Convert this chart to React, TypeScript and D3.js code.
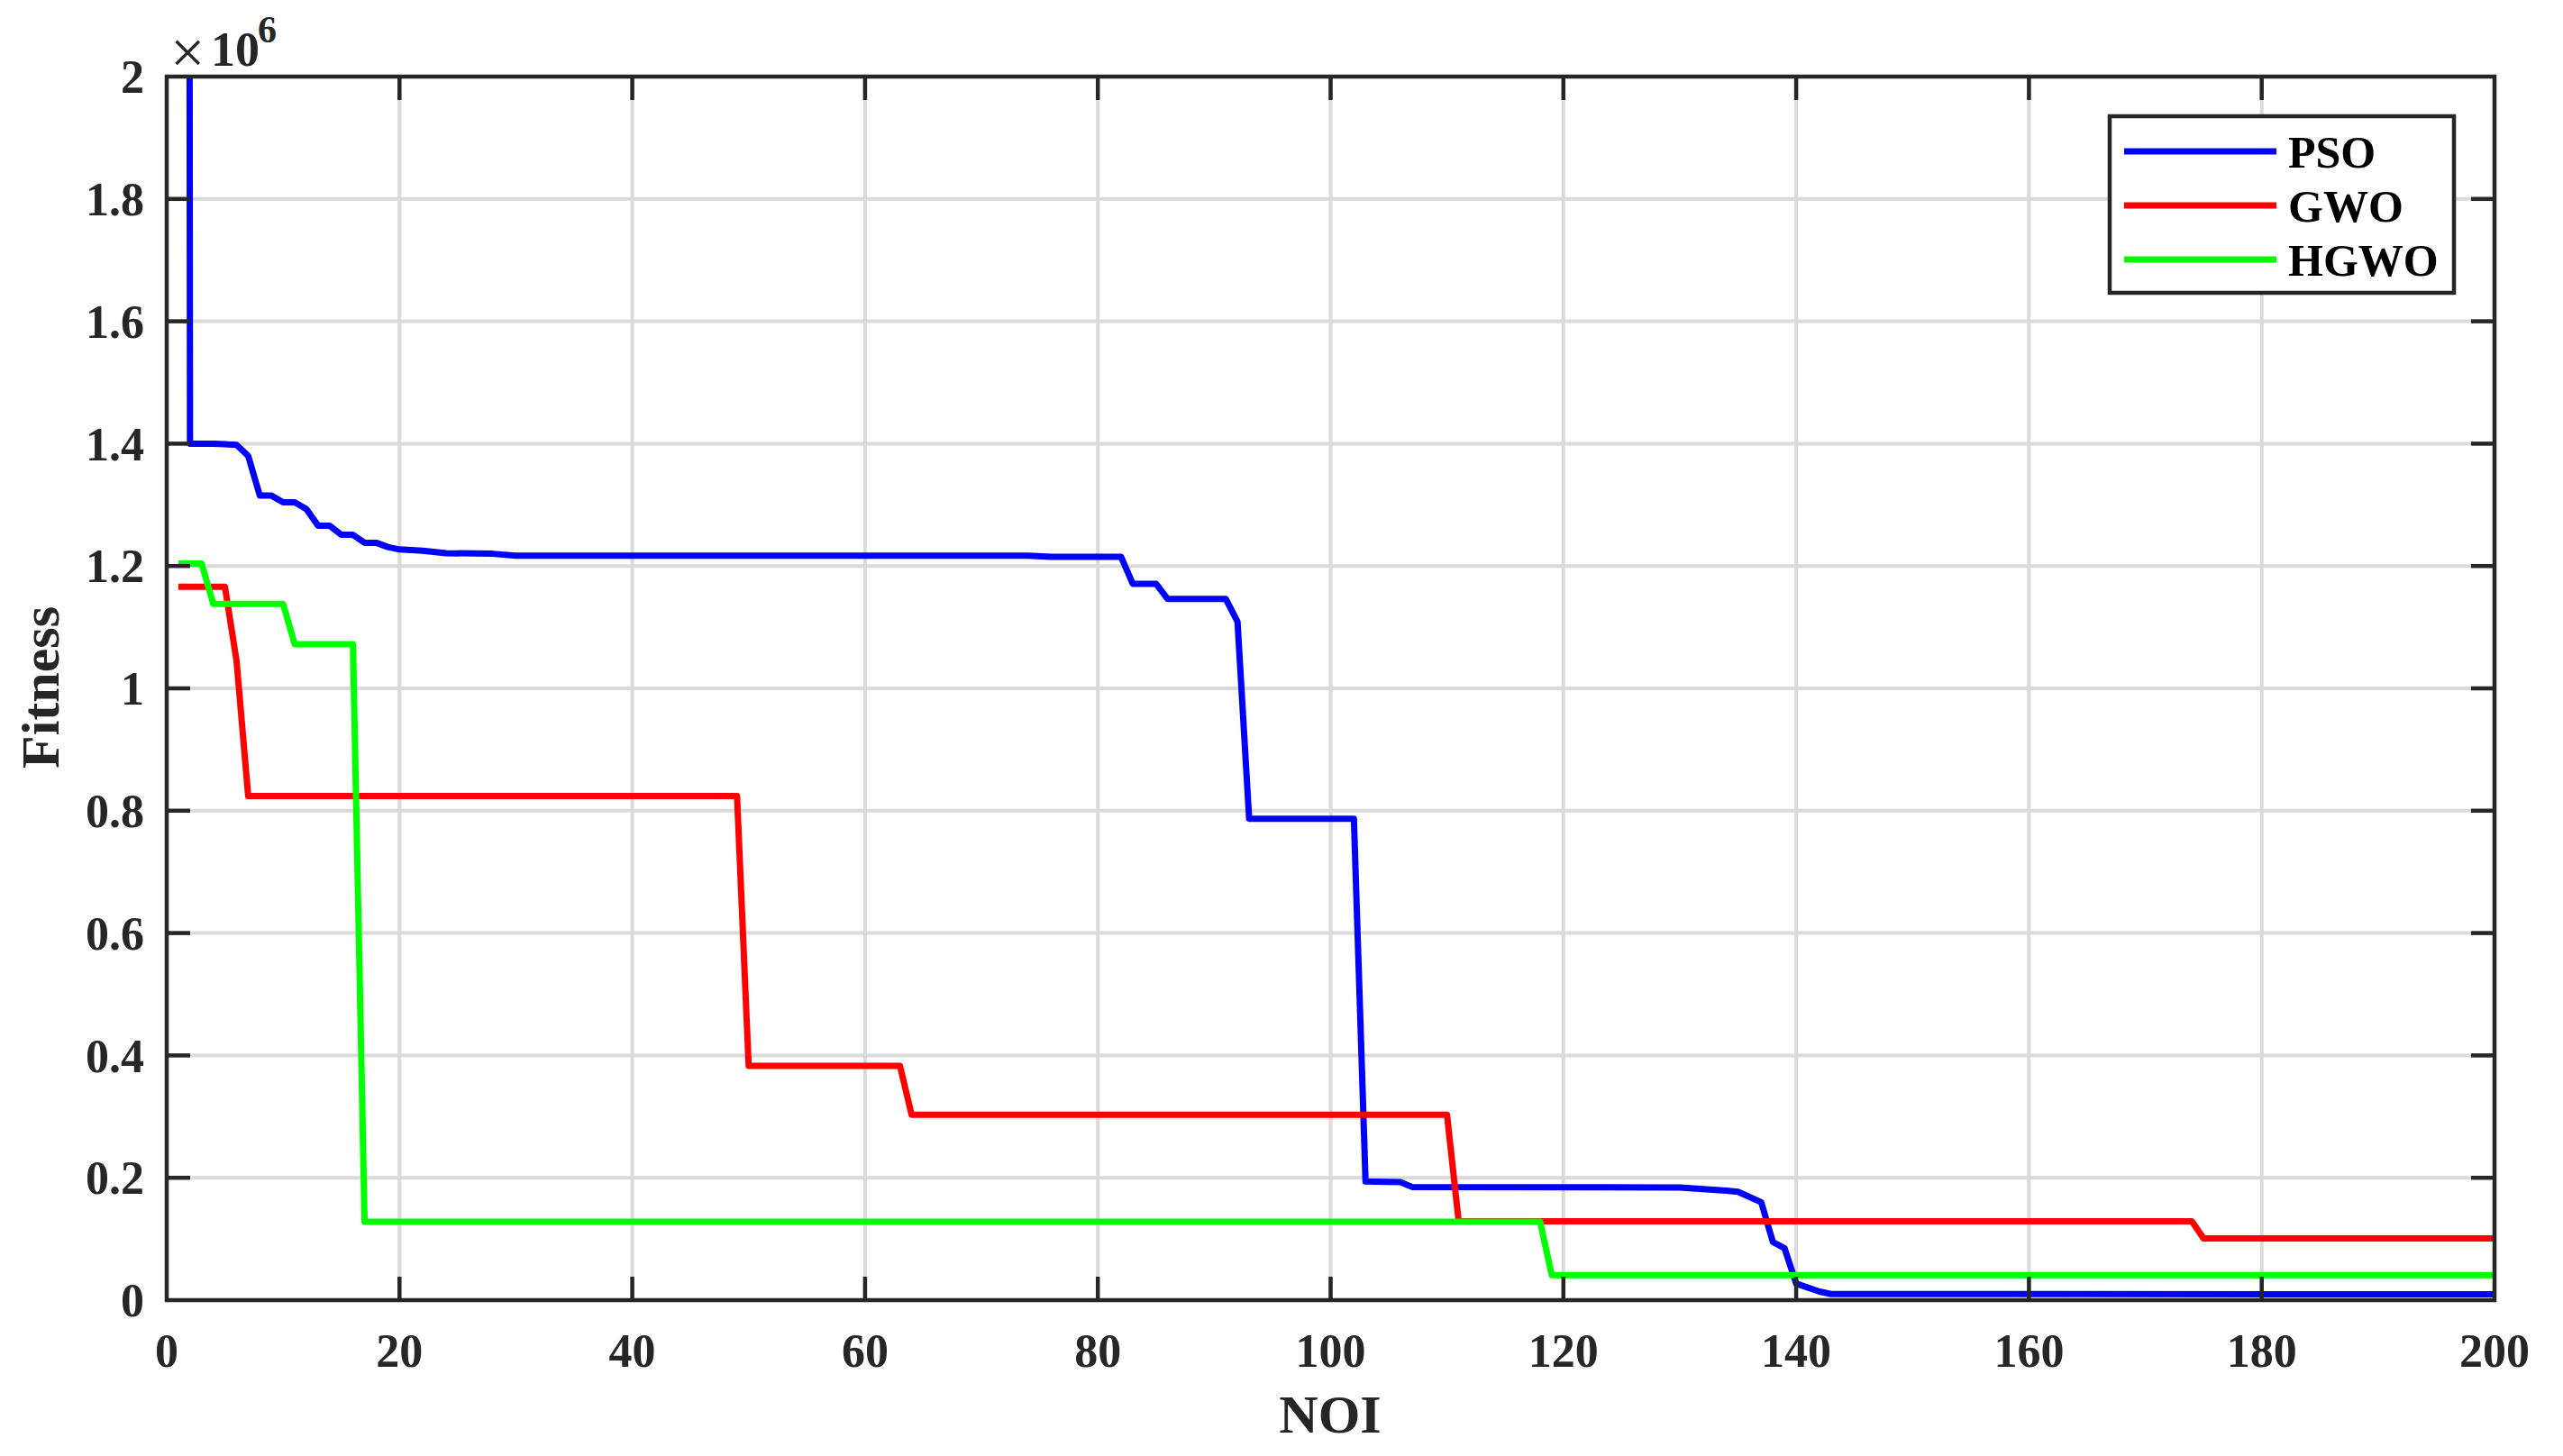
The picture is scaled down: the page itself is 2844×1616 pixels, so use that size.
import React from 'react'
import * as d3 from 'd3'

// vertices of each convergence curve (iteration, fitness in units of 1e6)
const psoIter = [1, 2, 4, 5, 6, 7, 8, 9, 10, 11, 12, 13, 14, 15, 16, 17, 18, 19, 20, 22, 24, 28, 30, 74, 76, 82, 83, 85, 86, 91, 92, 93, 102, 103, 106, 107, 130, 134, 135, 137, 138, 139, 140, 142, 143, 200]
const psoFit = [20, 1.4, 1.4, 1.399, 1.398, 1.38, 1.315, 1.315, 1.304, 1.304, 1.293, 1.266, 1.266, 1.251, 1.251, 1.238, 1.238, 1.231, 1.227, 1.225, 1.221, 1.22, 1.217, 1.217, 1.215, 1.215, 1.171, 1.171, 1.146, 1.146, 1.109, 0.787, 0.787, 0.194, 0.193, 0.185, 0.184, 0.179, 0.177, 0.16, 0.095, 0.085, 0.027, 0.014, 0.01, 0.0095]

const gwoIter = [1, 5, 6, 7, 49, 50, 63, 64, 110, 111, 174, 175, 200]
const gwoFit = [1.166, 1.166, 1.045, 0.824, 0.824, 0.383, 0.383, 0.303, 0.303, 0.129, 0.129, 0.101, 0.101]

const hgwoIter = [1, 3, 4, 10, 11, 16, 17, 118, 119, 200]
const hgwoFit = [1.204, 1.204, 1.138, 1.138, 1.072, 1.072, 0.128, 0.128, 0.041, 0.041]

const seriesNames = ['PSO', 'GWO', 'HGWO']
const seriesColors = ['#0000ff', '#ff0000', '#00ff00']

const xTicks = [0, 20, 40, 60, 80, 100, 120, 140, 160, 180, 200]
const yTicks = [0, 0.2, 0.4, 0.6, 0.8, 1, 1.2, 1.4, 1.6, 1.8, 2]

const W = 2844
const H = 1616
const left = 185, right = 2768, top = 85, bottom = 1443
const font = '"Liberation Serif", "Times New Roman", serif'
const ink = '#262626'

export default function App() {
  const x = d3.scaleLinear().domain([0, 200]).range([left, right])
  const y = d3.scaleLinear().domain([0, 2]).range([bottom, top])

  const series = [
    { iter: psoIter, fit: psoFit },
    { iter: gwoIter, fit: gwoFit },
    { iter: hgwoIter, fit: hgwoFit },
  ]

  const line = d3.line<[number, number]>()
    .x(d => x(d[0]))
    .y(d => y(d[1]))

  const tickLen = 26
  const legendRows = [168, 228, 288]

  return (
    <svg width={W} height={H} style={{ position: 'absolute', left: 0, top: 0, background: '#fff' }}>
      <defs>
        <clipPath id="plot">
          <rect x={left} y={top} width={right - left} height={bottom - top} />
        </clipPath>
      </defs>
      <rect x={0} y={0} width={W} height={H} fill="#fff" />

      {/* grid */}
      {xTicks.slice(1, -1).map(t => (
        <line key={'gx' + t} x1={x(t)} x2={x(t)} y1={top} y2={bottom} stroke="#dadada" strokeWidth={4} />
      ))}
      {yTicks.slice(1, -1).map(t => (
        <line key={'gy' + t} x1={left} x2={right} y1={y(t)} y2={y(t)} stroke="#dadada" strokeWidth={4} />
      ))}

      {/* curves */}
      <g clipPath="url(#plot)">
        {series.map((s, i) => (
          <path key={i}
            d={line(s.iter.map((v, j) => [v, s.fit[j]] as [number, number])) || ''}
            fill="none" stroke={seriesColors[i]} strokeWidth={7} strokeLinejoin="round" />
        ))}
      </g>

      {/* ticks */}
      {xTicks.slice(1, -1).map(t => (
        <g key={'tx' + t}>
          <line x1={x(t)} x2={x(t)} y1={bottom} y2={bottom - tickLen} stroke={ink} strokeWidth={4.5} />
          <line x1={x(t)} x2={x(t)} y1={top} y2={top + tickLen} stroke={ink} strokeWidth={4.5} />
        </g>
      ))}
      {yTicks.slice(1, -1).map(t => (
        <g key={'ty' + t}>
          <line x1={left} x2={left + tickLen} y1={y(t)} y2={y(t)} stroke={ink} strokeWidth={4.5} />
          <line x1={right} x2={right - tickLen} y1={y(t)} y2={y(t)} stroke={ink} strokeWidth={4.5} />
        </g>
      ))}
      <rect x={left} y={top} width={right - left} height={bottom - top} fill="none" stroke={ink} strokeWidth={4.5} />

      {/* tick labels */}
      {xTicks.map(t => (
        <text key={'lx' + t} x={x(t)} y={1517} textAnchor="middle" fontFamily={font} fontWeight="bold" fontSize={52} fill={ink}>{t}</text>
      ))}
      {yTicks.map(t => (
        <text key={'ly' + t} x={160} y={y(t)} dy="0.35em" textAnchor="end" fontFamily={font} fontWeight="bold" fontSize={52} fill={ink}>{t}</text>
      ))}
      {/* exponent */}
      <text x={189} y={81} fontFamily={font} fontSize={68} fill={ink}>×</text>
      <text x={234} y={73} fontFamily={font} fontWeight="bold" fontSize={54} fill={ink}>10</text>
      <text x={286} y={47} fontFamily={font} fontWeight="bold" fontSize={42} fill={ink}>6</text>

      {/* axis titles */}
      <text x={1476} y={1590} textAnchor="middle" fontFamily={font} fontWeight="bold" fontSize={60} fill={ink}>NOI</text>
      <text transform="translate(65,763) rotate(-90)" textAnchor="middle" fontFamily={font} fontWeight="bold" fontSize={60} fill={ink}>Fitness</text>

      {/* legend */}
      <rect x={2341} y={129} width={382} height={196} fill="#fff" stroke={ink} strokeWidth={4.5} />
      {seriesNames.map((n, i) => (
        <g key={n}>
          <line x1={2357} x2={2526} y1={legendRows[i]} y2={legendRows[i]} stroke={seriesColors[i]} strokeWidth={7} />
          <text x={2539} y={legendRows[i]} dy="0.35em" fontFamily={font} fontWeight="bold" fontSize={50} fill="#000">{n}</text>
        </g>
      ))}
    </svg>
  )
}
